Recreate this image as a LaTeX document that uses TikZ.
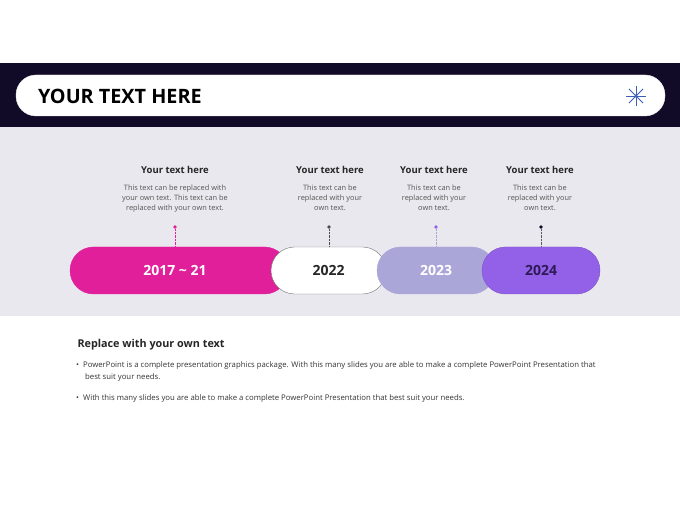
\documentclass[tikz,border=0pt]{standalone}
\usepackage{fontspec}
\setmainfont{Open Sans}
\usetikzlibrary{positioning,calc}
\definecolor{bandnavy}{HTML}{120B27}
\definecolor{bandgrey}{HTML}{E9E8EF}
\definecolor{pmagenta}{HTML}{E11F9B}
\definecolor{plavender}{HTML}{AAA6D8}
\definecolor{ppurple}{HTML}{9361E8}
\definecolor{starblue}{HTML}{3E5DB8}
\definecolor{darkink}{HTML}{2E1A55}
\definecolor{bodygrey}{HTML}{555555}

\begin{document}
\begin{tikzpicture}[x=1pt,y=-1pt]
  \tikzset{
    pill/.style={
      draw,
      rounded corners=23.5pt,
      minimum height=47pt,
      inner sep=0pt,
      font=\fontsize{14}{16}\selectfont\bfseries
    },
    title/.style={
      font=\fontsize{9.5}{11}\selectfont\bfseries,
      text=black!85
    },
    body/.style={
      font=\fontsize{7.4}{10}\selectfont,
      text=bodygrey,
      align=center
    },
    dot/.style={
      circle,
      inner sep=0pt,
      minimum size=3.6pt
    },
    link/.style={
      densely dotted,
      thin
    },
    bullet/.style={
      anchor=north west,
      font=\fontsize{7.75}{12}\selectfont,
      text=black!80,
      align=left,
      inner sep=0pt
    }
  }

  \useasboundingbox (0,0) rectangle (680,510);
  \fill[white] (0,0) rectangle (680,510);

  % header band
  \fill[bandnavy] (0,63) rectangle (680,127);
  \node[fill=white, draw=bandgrey, rounded corners=20pt, minimum width=649pt,
    minimum height=41pt, inner sep=0pt] (header) at (340.5,95.5) {};
  \node[anchor=west, font=\fontsize{19.8}{22}\selectfont\bfseries] (headtext)
    at (34.5,96) {YOUR TEXT HERE};
  \coordinate (star) at (636,96);
  \foreach \a in {0,45,90,135}
    \draw[starblue, line width=0.9pt] ($(star)+(\a:10)$) -- ($(star)+(\a+180:10)$);
  \fill[starblue] (star) circle (1.6pt);

  % timeline band
  \fill[bandgrey] (0,127) rectangle (680,316);

  \node[pill, fill=pmagenta, draw=pmagenta, text=white, minimum width=218pt]
    (y2017) at (179,270.5) {};
  \node[font=\fontsize{14}{16}\selectfont\bfseries, text=white] (l2017)
    at (175,270.5) {2017 \textasciitilde\ 21};
  \node[pill, fill=white, draw=black!55, text=black!85, minimum width=115pt]
    (y2022) at (328.5,270.5) {2022};
  \node[pill, fill=plavender, draw=plavender, text=white, minimum width=118pt]
    (y2023) at (436,270.5) {2023};
  \node[pill, fill=ppurple, draw=ppurple!85!black, text=darkink, minimum width=118pt]
    (y2024) at (541,270.5) {2024};

  \node[dot, fill=pmagenta] (d2017) at (175,227) {};
  \node[dot, fill=black!70] (d2022) at (329,227) {};
  \node[dot, fill=ppurple] (d2023) at (436,227) {};
  \node[dot, fill=bandnavy] (d2024) at (541,227) {};

  \draw[link, pmagenta] (d2017) -- (d2017 |- y2017.north);
  \draw[link, black!70] (d2022) -- (d2022 |- y2022.north);
  \draw[link, plavender] (d2023) -- (d2023 |- y2023.north);
  \draw[link, bandnavy!70] (d2024) -- (d2024 |- y2024.north);

  \node[title] (t2017) at (175,170) {Your text here};
  \node[title] (t2022) at (330,170) {Your text here};
  \node[title] (t2023) at (434,170) {Your text here};
  \node[title] (t2024) at (540,170) {Your text here};

  \node[body, below=4pt of t2017] (b2017)
    {This text can be replaced with\\your own text. This text can be\\replaced with your own text.};
  \node[body, below=4pt of t2022] (b2022)
    {This text can be\\replaced with your\\own text.};
  \node[body, below=4pt of t2023] (b2023)
    {This text can be\\replaced with your\\own text.};
  \node[body, below=4pt of t2024] (b2024)
    {This text can be\\replaced with your\\own text.};

  % notes
  \node[anchor=west, font=\fontsize{10.8}{12}\selectfont\bfseries, text=black!85]
    (notes) at (74,345) {Replace with your own text};
  \node[bullet] (n1) at (76,361)
    {\textbullet\hspace{4pt}PowerPoint is a complete presentation graphics package. With this many slides you are able to make a complete PowerPoint Presentation that\\
     \hspace{9pt}best suit your needs.};
  \node[bullet] (n2) at (76,394)
    {\textbullet\hspace{4pt}With this many slides you are able to make a complete PowerPoint Presentation that best suit your needs.};
\end{tikzpicture}
\end{document}
